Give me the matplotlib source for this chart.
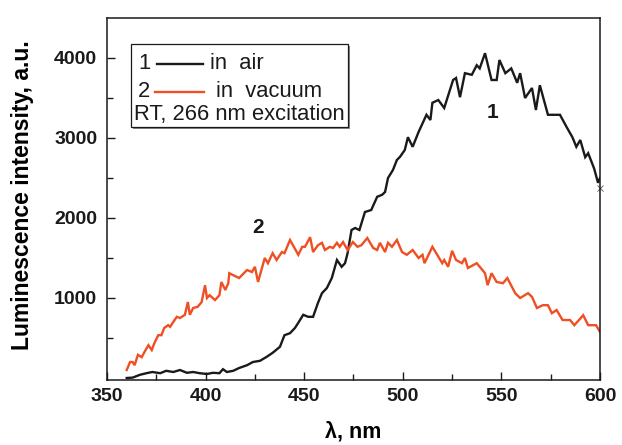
import matplotlib
matplotlib.use("Agg")
import matplotlib.pyplot as plt
from matplotlib.patches import Rectangle
from matplotlib.lines import Line2D

plt.rcParams['font.family'] = ['Liberation Sans', 'DejaVu Sans']

# Curve 1: in air
air_wl = [360, 363, 366.7, 370, 373, 377, 380, 383.6, 387, 390.5, 393.7, 397, 400.7, 403.7, 407,
          408.8, 410.8, 414, 417, 421, 424, 427.6, 431, 434, 437.7, 440, 442.8, 445.3, 447, 449.5,
          452, 454.5, 457, 459, 461.5, 464, 466.6, 469, 470.7, 472, 474, 475.8, 478, 480.8, 484,
          487, 489.5, 491, 492.5, 495, 497, 498.6, 501, 502.6, 505, 508, 512, 514, 515, 518, 521,
          525.5, 527, 529, 531.5, 535, 537.5, 539, 541.7, 545, 547.6, 549, 552, 555, 558, 559.5,
          562, 565.5, 567.5, 569.5, 573.6, 579.7, 583, 586, 588, 590, 592.5, 594, 597, 599, 600]
air_int = [0, 5, 40, 60, 75, 60, 90, 75, 100, 65, 75, 60, 50, 65, 60,
           110, 75, 90, 125, 160, 200, 215, 265, 315, 390, 535, 560, 625, 690, 790,
           765, 765, 940, 1060, 1125, 1250, 1475, 1390, 1435, 1560, 1850, 1875, 1850, 2075, 2100,
           2265, 2290, 2325, 2500, 2600, 2725, 2765, 2850, 3010, 2890, 3075, 3290, 3225, 3440, 3475, 3375,
           3725, 3750, 3510, 3810, 3790, 3910, 3870, 4060, 3725, 3725, 3975, 3810, 3870, 3690, 3810,
           3500, 3625, 3350, 3660, 3290, 3290, 3140, 3010, 2890, 2975, 2760, 2810, 2620, 2440, 2500]

# Curve 2: in vacuum
vac_wl = [360, 361.7, 363, 364, 365.7, 367.6, 369, 371, 372.7, 374, 376, 377.6, 379, 381, 382,
          383.6, 385.4, 387, 389.5, 391, 392, 393.7, 396, 398, 399.7, 400.7, 402, 404.8, 407, 408,
          410, 411.5, 412, 415.7, 417, 421, 423.5, 425, 426.6, 430, 431.6, 434, 436, 438.7, 440,
          442.8, 444.3, 447, 449, 450.4, 453, 454.5, 457, 459, 460.5, 463, 464.6, 466.6, 468, 469.7,
          472, 474.7, 477, 479, 482, 485, 487, 488.4, 491, 492.5, 494.5, 497, 499.6, 502, 505,
          508, 510, 511, 515, 520, 521, 523, 525, 527, 530, 531.5, 533, 537.5, 541.7, 543,
          545, 547.6, 550.8, 553, 557, 559.5, 563.5, 565.5, 568, 571, 573.6, 575.6, 578, 581, 584.8,
          587, 591.5, 594, 598, 600]
vac_int = [100, 200, 200, 160, 290, 260, 325, 410, 350, 435, 535, 535, 625, 660, 640,
           700, 765, 750, 790, 950, 790, 875, 890, 950, 1160, 1000, 1035, 975, 1035, 1200,
           1100, 1185, 1310, 1265, 1250, 1350, 1325, 1390, 1200, 1500, 1435, 1560, 1475, 1575, 1560,
           1725, 1660, 1540, 1640, 1640, 1760, 1575, 1660, 1690, 1600, 1640, 1625, 1690, 1640, 1700,
           1600, 1700, 1640, 1660, 1750, 1625, 1600, 1690, 1575, 1690, 1640, 1725, 1575, 1540, 1600,
           1500, 1540, 1435, 1640, 1435, 1475, 1390, 1590, 1475, 1435, 1500, 1375, 1435, 1310, 1160,
           1310, 1200, 1185, 1250, 1060, 1000, 1060, 1015, 875, 910, 910, 810, 850, 725, 725,
           660, 785, 660, 660, 575]

x_ticks = [350, 400, 450, 500, 550, 600]
y_ticks = [1000, 2000, 3000, 4000]

W, H = 622, 445
fig = plt.figure(figsize=(W / 100, H / 100), dpi=100)
ax = fig.add_axes([107 / W, 1 - 380 / H, (600 - 107) / W, (380 - 18) / H])

black = '#1a1a1a'
orange = '#f04e23'
ax.plot(air_wl, air_int, color=black, lw=1.7, solid_joinstyle='miter')
ax.plot(vac_wl, vac_int, color=orange, lw=1.7, solid_joinstyle='miter')
ax.plot([600], [2380], marker='x', ms=4, mew=0.6, color='#555555', clip_on=False)

ax.set_xlim(350, 600)
ax.set_ylim(-25, 4500)
ax.set_xticks(x_ticks)
ax.set_xticks([375, 425, 475, 525, 575], minor=True)
ax.set_yticks(y_ticks)
ax.set_yticks([500, 1500, 2500, 3500], minor=True)
ax.tick_params(which='both', direction='in', top=False, right=False, width=1, colors=black)
ax.tick_params(which='major', length=6, labelsize=14)
ax.tick_params(axis='x', which='major', pad=6)
ax.tick_params(axis='y', which='major', pad=7)
ax.tick_params(which='minor', length=4)
for lab in ax.get_xticklabels() + ax.get_yticklabels():
    lab.set_fontweight('bold')
for s in ax.spines.values():
    s.set_linewidth(1.1)
    s.set_color(black)

ax.set_xlabel('λ, nm', fontsize=15.5, fontweight='bold')
ax.xaxis.label.set_va('center')
ax.xaxis.set_label_coords(0.5, (380 - 432) / 362)
ax.set_ylabel('Luminescence intensity, a.u.', fontsize=16.5, fontweight='bold')
ax.yaxis.label.set_va('center')
ax.yaxis.set_label_coords((23 - 107) / 493, 0.51)

ax.text(493 / W, 1 - 113 / H, '1', transform=fig.transFigure, fontsize=15, fontweight='bold',
        ha='center', va='center', color=black)
ax.text(258 / W, 1 - 228 / H, '2', transform=fig.transFigure, fontsize=15, fontweight='bold',
        ha='center', va='center', color=black)

# legend box
def fx(px):
    return px / W

def fy(py):
    return 1 - py / H

tf = fig.transFigure
fig.patches.append(Rectangle((fx(133), fy(129)), fx(350) - fx(133), fy(46) - fy(129),
                             transform=tf, facecolor='#888888', edgecolor='none', zorder=4))
fig.patches.append(Rectangle((fx(131), fy(127)), fx(348) - fx(131), fy(44) - fy(127),
                             transform=tf, facecolor='white', edgecolor=black, lw=0.9, zorder=5))
fs = 15.8
fig.text(fx(138), fy(63.5), '1', fontsize=fs, va='center', ha='left', zorder=6, color=black)
fig.lines.append(Line2D([fx(157), fx(203)], [fy(63.5), fy(63.5)], transform=tf, color=black, lw=1.7, zorder=6))
fig.text(fx(210), fy(63.5), 'in  air', fontsize=fs, va='center', ha='left', zorder=6, color=black)
fig.text(fx(138), fy(91.5), '2', fontsize=fs, va='center', ha='left', zorder=6, color=black)
fig.lines.append(Line2D([fx(155), fx(204)], [fy(91.5), fy(91.5)], transform=tf, color=orange, lw=1.7, zorder=6))
fig.text(fx(216), fy(91.5), 'in  vacuum', fontsize=fs, va='center', ha='left', zorder=6, color=black)
fig.text(fx(134), fy(114.5), 'RT, 266 nm excitation', fontsize=fs, va='center', ha='left', zorder=6,
         color=black)

fig.savefig('out.png', dpi=100)
